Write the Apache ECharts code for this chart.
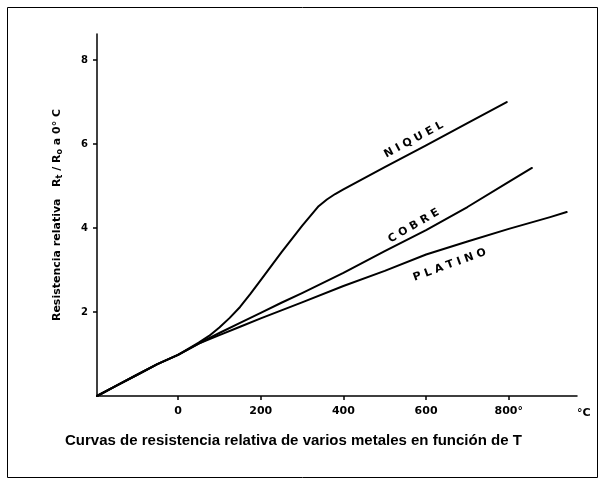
<!DOCTYPE html>
<html>
<head>
<meta charset="utf-8">
<script src="https://cdn.jsdelivr.net/npm/echarts@6/dist/echarts.min.js"></script>
<style>
  html, body { margin: 0; padding: 0; background: #fff; }
  #chart { width: 605px; height: 485px; }
</style>
</head>
<body>
<div id="chart"></div>
<script>
// Temperatures (°C) and relative resistance Rt/R0 for each metal
const niquelT = [-196, -150, -100, -50, 0, 50, 75, 100, 125, 150, 175, 200, 250, 300, 340, 360, 380, 400, 500, 600, 700, 795];
const niquelR = [0, 0.24, 0.5, 0.76, 0.98, 1.27, 1.43, 1.63, 1.86, 2.12, 2.43, 2.76, 3.42, 4.05, 4.52, 4.68, 4.81, 4.92, 5.45, 5.97, 6.5, 7.0];

const cobreT = [-196, -150, -100, -50, 0, 50, 100, 150, 200, 250, 300, 400, 500, 600, 700, 800, 856];
const cobreR = [0, 0.24, 0.5, 0.76, 0.98, 1.25, 1.5, 1.74, 1.98, 2.22, 2.45, 2.93, 3.45, 3.95, 4.5, 5.1, 5.43];

const platinoT = [-196, -150, -100, -50, 0, 50, 100, 150, 200, 250, 300, 400, 500, 600, 700, 800, 900, 940];
const platinoR = [0, 0.24, 0.5, 0.76, 0.98, 1.25, 1.45, 1.65, 1.85, 2.04, 2.23, 2.62, 2.98, 3.37, 3.68, 3.98, 4.26, 4.38];

const xTicks = [0, 200, 400, 600, 800];
const yTicks = [2, 4, 6, 8];

const pairs = (t, r) => t.map((v, i) => [v, r[i]]);

const chart = echarts.init(document.getElementById('chart'), null, { renderer: 'canvas' });

const labelFont = {
  color: '#000',
  fontFamily: 'DejaVu Sans',
  fontWeight: 'bold',
  fontSize: 11
};

function curve(name, t, r, tag, coord, angle) {
  return {
    name: name,
    type: 'line',
    data: pairs(t, r),
    showSymbol: false,
    symbol: 'none',
    smooth: false,
    lineStyle: { color: '#000', width: 2, join: 'round', cap: 'round' },
    markPoint: {
      symbol: 'circle',
      symbolSize: 0,
      data: [{
        coord: coord,
        label: Object.assign({
          show: true,
          formatter: tag,
          position: 'inside',
          rotate: angle
        }, labelFont)
      }]
    },
    animation: false
  };
}

chart.setOption({
  backgroundColor: '#fff',
  animation: false,
  title: {
    text: 'Curvas de resistencia relativa de varios metales en función de T',
    left: 60,
    top: 428,
    textStyle: {
      color: '#000',
      fontFamily: 'Liberation Sans',
      fontWeight: 'bold',
      fontSize: 15
    }
  },
  grid: {
    left: 97, right: 28, top: 34, bottom: 89,
    containLabel: false,
    outerBoundsMode: 'none'
  },
  xAxis: {
    type: 'value',
    min: -196,
    max: 965,
    name: '°C',
    nameLocation: 'end',
    nameGap: 0,
    nameTextStyle: {
      color: '#000',
      fontFamily: 'DejaVu Sans',
      fontWeight: 'bold',
      fontSize: 11,
      verticalAlign: 'top',
      padding: [12, 0, 0, 0]
    },
    splitLine: { show: false },
    axisLine: { show: true, onZero: false, lineStyle: { color: '#000', width: 1.5 } },
    axisTick: { show: true, customValues: xTicks, length: 4, lineStyle: { color: '#000', width: 1.5 } },
    axisLabel: {
      customValues: xTicks,
      margin: 10,
      color: '#000',
      fontFamily: 'DejaVu Sans',
      fontWeight: 'bold',
      fontSize: 11,
      formatter: v => (v === 800 ? '800°' : String(v))
    }
  },
  yAxis: {
    type: 'value',
    min: 0,
    max: 8.62,
    name: 'Resistencia relativa   R{s|t} / R{s|o} a 0° C',
    nameLocation: 'middle',
    nameRotate: 90,
    nameGap: 33,
    nameTextStyle: {
      color: '#000',
      fontFamily: 'DejaVu Sans',
      fontWeight: 'bold',
      fontSize: 11,
      rich: {
        s: {
          color: '#000',
          fontFamily: 'DejaVu Sans',
          fontWeight: 'bold',
          fontSize: 8,
          verticalAlign: 'bottom',
          padding: [6, 0, 0, 0]
        }
      }
    },
    splitLine: { show: false },
    axisLine: { show: true, onZero: false, lineStyle: { color: '#000', width: 1.5 } },
    axisTick: { show: true, customValues: yTicks, length: 4, lineStyle: { color: '#000', width: 1.5 } },
    axisLabel: {
      customValues: yTicks,
      margin: 9,
      color: '#000',
      fontFamily: 'DejaVu Sans',
      fontWeight: 'bold',
      fontSize: 10
    }
  },
  graphic: [{
    type: 'rect',
    shape: { x: 7.5, y: 7.5, width: 590, height: 470 },
    style: { fill: 'none', stroke: '#000', lineWidth: 1 },
    silent: true
  }],
  series: [
    curve('NIQUEL', niquelT, niquelR, 'N I Q U E L', [570, 6.1], 28),
    curve('COBRE', cobreT, cobreR, 'C O B R E', [570, 4.05], 30),
    curve('PLATINO', platinoT, platinoR, 'P L A T I N O', [657, 3.12], 20)
  ]
});
</script>
</body>
</html>
